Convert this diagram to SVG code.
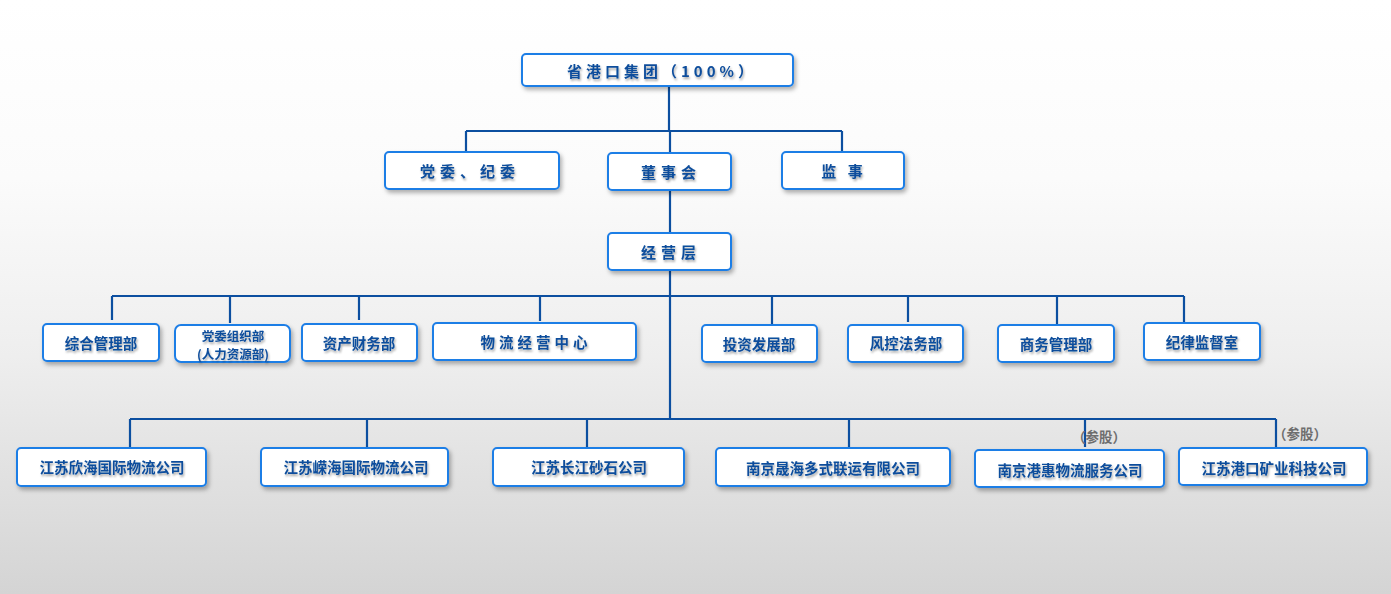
<svg xmlns="http://www.w3.org/2000/svg" width="1391" height="594" viewBox="0 0 1391 594">
<defs>
<linearGradient id="bg" x1="0" y1="0" x2="0" y2="1">
<stop offset="0" stop-color="#ffffff"/>
<stop offset="0.3" stop-color="#fbfbfb"/>
<stop offset="0.6" stop-color="#eeeeee"/>
<stop offset="1" stop-color="#d4d4d4"/>
</linearGradient>
<filter id="sh" x="-10%" y="-30%" width="125%" height="170%">
<feDropShadow dx="2" dy="3" stdDeviation="2" flood-color="#000" flood-opacity="0.3"/>
</filter>
<filter id="tsh" x="-10%" y="-30%" width="120%" height="170%">
<feDropShadow dx="1" dy="2" stdDeviation="1.2" flood-color="#000" flood-opacity="0.35"/>
</filter>
</defs>
<style>
.box{fill:#ffffff;stroke:#1f7ee6;stroke-width:2;filter:url(#sh)}
.t{font-family:"Noto Sans CJK SC","Liberation Sans",sans-serif;font-weight:bold;fill:#0c4d9c;text-anchor:middle;dominant-baseline:central;filter:url(#tsh)}
.s15{font-size:15px}
.s14{font-size:14.5px}
.s12{font-size:12.5px}
.note{font-family:"Noto Sans CJK SC","Liberation Sans",sans-serif;font-weight:bold;font-size:13.5px;fill:#6e6e6e;dominant-baseline:central}
.c{fill:none;stroke:#0c4fa0;stroke-width:2.2}
</style>
<rect x="0" y="0" width="1391" height="594" fill="url(#bg)"/>
<g id="connectors">
<path class="c" d="M669 86 V131 M466 131 H842 M466 131 V152 M842 131 V152 M670 131 V153"/>
<path class="c" d="M670 190 V233"/>
<path class="c" d="M670 270 V418"/>
<path class="c" d="M112 296 H1184 M112 296 V320 M230 296 V323 M359 296 V320 M540 296 V321 M772 296 V324 M908 296 V322 M1057 296 V324 M1184 296 V322"/>
<path class="c" d="M130 419 H1276 M130 419 V448 M367 419 V448 M587 419 V448 M849 419 V448 M1085 419 V447 M1276 419 V447"/>
</g>
<g id="n-top"><rect class="box" x="522" y="54" width="271" height="32" rx="4"/><text class="t s15" x="662" y="70" letter-spacing="4">省港口集团（100%）</text></g>
<g id="n-dangwei"><rect class="box" x="385" y="152" width="174" height="37" rx="4"/><text class="t s15" x="470" y="170" letter-spacing="5">党委、纪委</text></g>
<g id="n-dongshi"><rect class="box" x="608" y="153" width="123" height="37" rx="4"/><text class="t s15" x="671" y="171" letter-spacing="5">董事会</text></g>
<g id="n-jianshi"><rect class="box" x="782" y="152" width="122" height="37" rx="4"/><text class="t s15" x="844" y="170" letter-spacing="4">监  事</text></g>
<g id="n-jingying"><rect class="box" x="608" y="233" width="123" height="37" rx="4"/><text class="t s15" x="671" y="251" letter-spacing="5">经营层</text></g>
<g id="n-zonghe"><rect class="box" x="43" y="324" width="116" height="37" rx="4"/><text class="t s14" x="101" y="342">综合管理部</text></g>
<g id="n-zuzhi"><rect class="box" x="175" y="325" width="115" height="37" rx="6"/><text class="t s12"><tspan x="233" y="334.5">党委组织部</tspan><tspan x="233" y="352.5">(人力资源部)</tspan></text></g>
<g id="n-caiwu"><rect class="box" x="302" y="324" width="115" height="37" rx="4"/><text class="t s14" x="359" y="342">资产财务部</text></g>
<g id="n-wuliu"><rect class="box" x="433" y="323" width="203" height="37" rx="4"/><text class="t s14" x="536" y="341" letter-spacing="4">物流经营中心</text></g>
<g id="n-touzi"><rect class="box" x="702" y="325" width="115" height="37" rx="4"/><text class="t s14" x="759" y="343">投资发展部</text></g>
<g id="n-fengkong"><rect class="box" x="848" y="325" width="115" height="37" rx="4"/><text class="t s14" x="906" y="342">风控法务部</text></g>
<g id="n-shangwu"><rect class="box" x="998" y="325" width="116" height="37" rx="4"/><text class="t s14" x="1056" y="343">商务管理部</text></g>
<g id="n-jilv"><rect class="box" x="1144" y="323" width="116" height="37" rx="4"/><text class="t s14" x="1202" y="341">纪律监督室</text></g>
<g id="n-xinhai"><rect class="box" x="17" y="448" width="189" height="38" rx="4"/><text class="t s14" x="112" y="466">江苏欣海国际物流公司</text></g>
<g id="n-ronghai"><rect class="box" x="261" y="448" width="187" height="38" rx="4"/><text class="t s14" x="356" y="466">江苏嵘海国际物流公司</text></g>
<g id="n-changjiang"><rect class="box" x="493" y="448" width="191" height="38" rx="4"/><text class="t s14" x="589" y="466">江苏长江砂石公司</text></g>
<g id="n-shenghai"><rect class="box" x="716" y="448" width="234" height="38" rx="4"/><text class="t s14" x="833" y="467">南京晟海多式联运有限公司</text></g>
<g id="n-ganghui"><rect class="box" x="975" y="450" width="189" height="37" rx="4"/><text class="t s14" x="1070" y="469">南京港惠物流服务公司</text><text class="note" x="1072" y="436">（参股）</text></g>
<g id="n-kuangye"><rect class="box" x="1179" y="448" width="188" height="37" rx="4"/><text class="t s14" x="1274" y="467">江苏港口矿业科技公司</text><text class="note" x="1273" y="433">（参股）</text></g>
</svg>
